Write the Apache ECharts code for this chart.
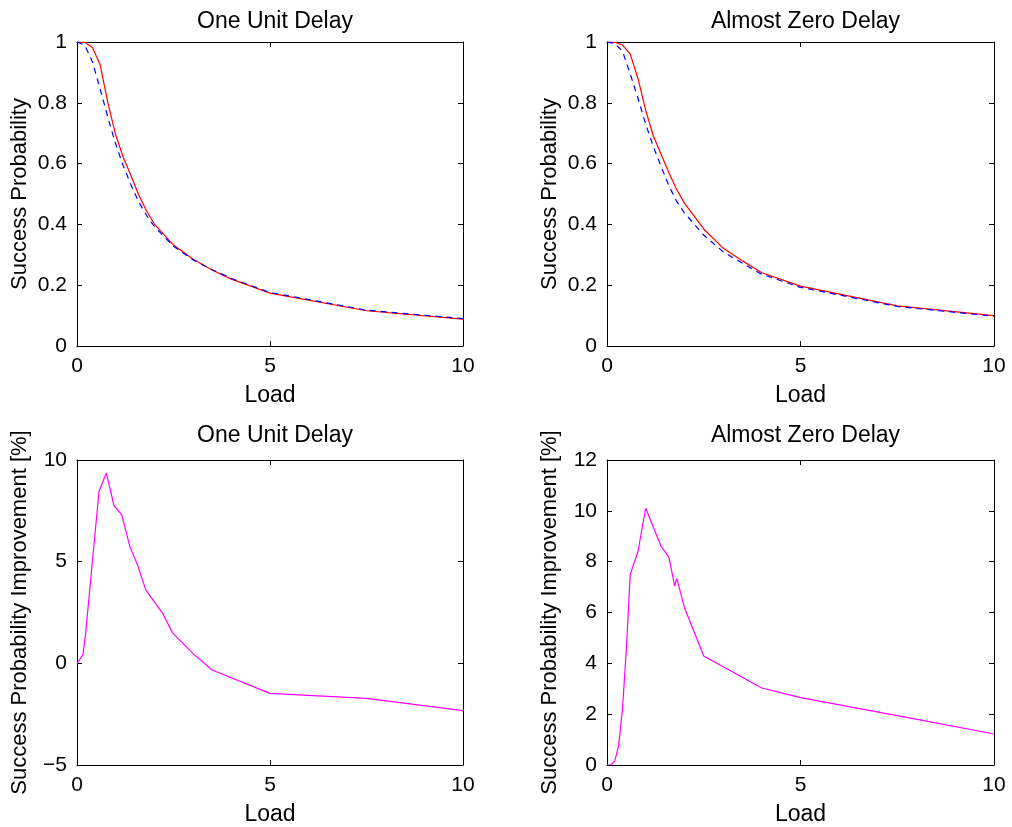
<!DOCTYPE html>
<html>
<head>
<meta charset="utf-8">
<script src="https://cdn.jsdelivr.net/npm/echarts@6/dist/echarts.min.js"></script>
<style>
html, body { margin: 0; padding: 0; background: #ffffff; }
#chart { width: 1012px; height: 827px; }
</style>
</head>
<body>
<div id="chart"></div>
<script>
// load values shared by the two top panels
var loadTop = [0, 0.2, 0.4, 0.6, 0.8, 1.0, 1.2, 1.4, 1.6, 1.8, 2.0, 2.5, 3, 3.5, 4, 5, 7.5, 10];

// One Unit Delay - success probability
var oneUnitRed  = [1.0, 0.999, 0.982, 0.925, 0.80, 0.695, 0.62, 0.56, 0.497, 0.445, 0.402, 0.332, 0.286, 0.25, 0.22, 0.174, 0.116, 0.0885];
var oneUnitBlue = [1.0, 0.99, 0.935, 0.845, 0.752, 0.665, 0.592, 0.53, 0.474, 0.43, 0.394, 0.328, 0.284, 0.251, 0.222, 0.176, 0.118, 0.09];

// Almost Zero Delay - success probability
var zeroRed  = [1.0, 0.999, 0.99, 0.96, 0.88, 0.775, 0.69, 0.63, 0.57, 0.515, 0.47, 0.385, 0.322, 0.28, 0.241, 0.197, 0.132, 0.1];
var zeroBlue = [1.0, 0.995, 0.97, 0.895, 0.815, 0.73, 0.655, 0.59, 0.527, 0.476, 0.438, 0.365, 0.31, 0.272, 0.236, 0.193, 0.13, 0.098];

// improvement [%]
var loadImpOne = [0, 0.05, 0.15, 0.22, 0.57, 0.76, 0.96, 1.16, 1.37, 1.57, 1.68, 1.78, 2.22, 2.47, 3, 3.5, 5, 7.5, 10];
var impOne     = [0, 0, 0.4, 1.4, 8.45, 9.36, 7.75, 7.3, 5.74, 4.84, 4.19, 3.61, 2.46, 1.51, 0.49, -0.33, -1.48, -1.72, -2.33];

var loadImpZero = [0, 0.1, 0.2, 0.3, 0.4, 0.5, 0.6, 0.8, 1.0, 1.4, 1.6, 1.75, 1.8, 1.85, 2.0, 2.5, 4, 5, 7.5, 10];
var impZero     = [0, 0, 0.15, 0.75, 2.2, 4.55, 7.5, 8.4, 10.1, 8.6, 8.17, 7.04, 7.34, 7.08, 6.2, 4.29, 3.03, 2.65, 1.94, 1.22];

var titles = ['One Unit Delay', 'Almost Zero Delay', 'One Unit Delay', 'Almost Zero Delay'];
var yNames = ['Success Probability', 'Success Probability',
              'Success Probability Improvement [%]', 'Success Probability Improvement [%]'];
var yRanges = [[0, 1, 0.2], [0, 1, 0.2], [-5, 10, 5], [0, 12, 2]];

function pairs(xs, ys) {
    var out = [];
    for (var i = 0; i < xs.length; i++) {
        out.push([xs[i], ys[i]]);
    }
    return out;
}

// matlab prints a real minus sign
function tickText(v) {
    return String(v).replace('-', '\u2212');
}

var font = 'Helvetica, Arial, "Liberation Sans", sans-serif';

var grids = [
    { left: 77,  top: 42,  width: 386, height: 304 },
    { left: 607, top: 42,  width: 387, height: 304 },
    { left: 77,  top: 460, width: 386, height: 305 },
    { left: 607, top: 460, width: 387, height: 305 }
];
var titleTops = [5, 5, 419, 419];

var xAxes = [], yAxes = [], titleList = [];

for (var g = 0; g < 4; g++) {
    var axisLine = { show: true, onZero: false, lineStyle: { color: '#000000', width: 1 } };
    var tick = { show: true, inside: true, length: 5, lineStyle: { color: '#000000' } };

    titleList.push({
        text: titles[g],
        left: grids[g].left + grids[g].width / 2,
        top: titleTops[g],
        textAlign: 'center',
        textStyle: { fontFamily: font, fontSize: 23, fontWeight: 'normal', color: '#000000' }
    });

    xAxes.push({
        type: 'value', gridIndex: g, position: 'bottom',
        min: 0, max: 10, interval: 5,
        name: 'Load', nameLocation: 'middle', nameGap: 38,
        nameTextStyle: { fontFamily: font, fontSize: 23, color: '#000000' },
        axisLine: axisLine, axisTick: tick,
        axisLabel: { fontFamily: font, fontSize: 21, color: '#000000', margin: 10 },
        splitLine: { show: false }
    });
    xAxes.push({
        type: 'value', gridIndex: g, position: 'top',
        min: 0, max: 10, interval: 5,
        axisLine: axisLine, axisTick: tick,
        axisLabel: { show: false }, splitLine: { show: false }
    });

    yAxes.push({
        type: 'value', gridIndex: g, position: 'left',
        min: yRanges[g][0], max: yRanges[g][1], interval: yRanges[g][2],
        name: yNames[g], nameLocation: 'middle', nameRotate: 90, nameGap: 46,
        nameTextStyle: { fontFamily: font, fontSize: 22, color: '#000000' },
        axisLine: axisLine, axisTick: tick,
        axisLabel: { fontFamily: font, fontSize: 21, color: '#000000', margin: 10, formatter: tickText },
        splitLine: { show: false }
    });
    yAxes.push({
        type: 'value', gridIndex: g, position: 'right',
        min: yRanges[g][0], max: yRanges[g][1], interval: yRanges[g][2],
        axisLine: axisLine, axisTick: tick,
        axisLabel: { show: false }, splitLine: { show: false }
    });
}

function line(g, data, color, dashed) {
    return {
        type: 'line', xAxisIndex: 2 * g, yAxisIndex: 2 * g,
        data: data, showSymbol: false, symbol: 'none', silent: true,
        lineStyle: { color: color, width: 1.2, type: dashed ? [6, 5] : 'solid' }
    };
}

var chart = echarts.init(document.getElementById('chart'));

var option = {
    animation: false,
    backgroundColor: '#ffffff',
    title: titleList,
    grid: grids,
    xAxis: xAxes,
    yAxis: yAxes,
    series: [
        line(0, pairs(loadTop, oneUnitRed), '#ff0000', false),
        line(0, pairs(loadTop, oneUnitBlue), '#0000ff', true),
        line(1, pairs(loadTop, zeroRed), '#ff0000', false),
        line(1, pairs(loadTop, zeroBlue), '#0000ff', true),
        line(2, pairs(loadImpOne, impOne), '#ff00ff', false),
        line(3, pairs(loadImpZero, impZero), '#ff00ff', false)
    ]
};

chart.setOption(option);
</script>
</body>
</html>
